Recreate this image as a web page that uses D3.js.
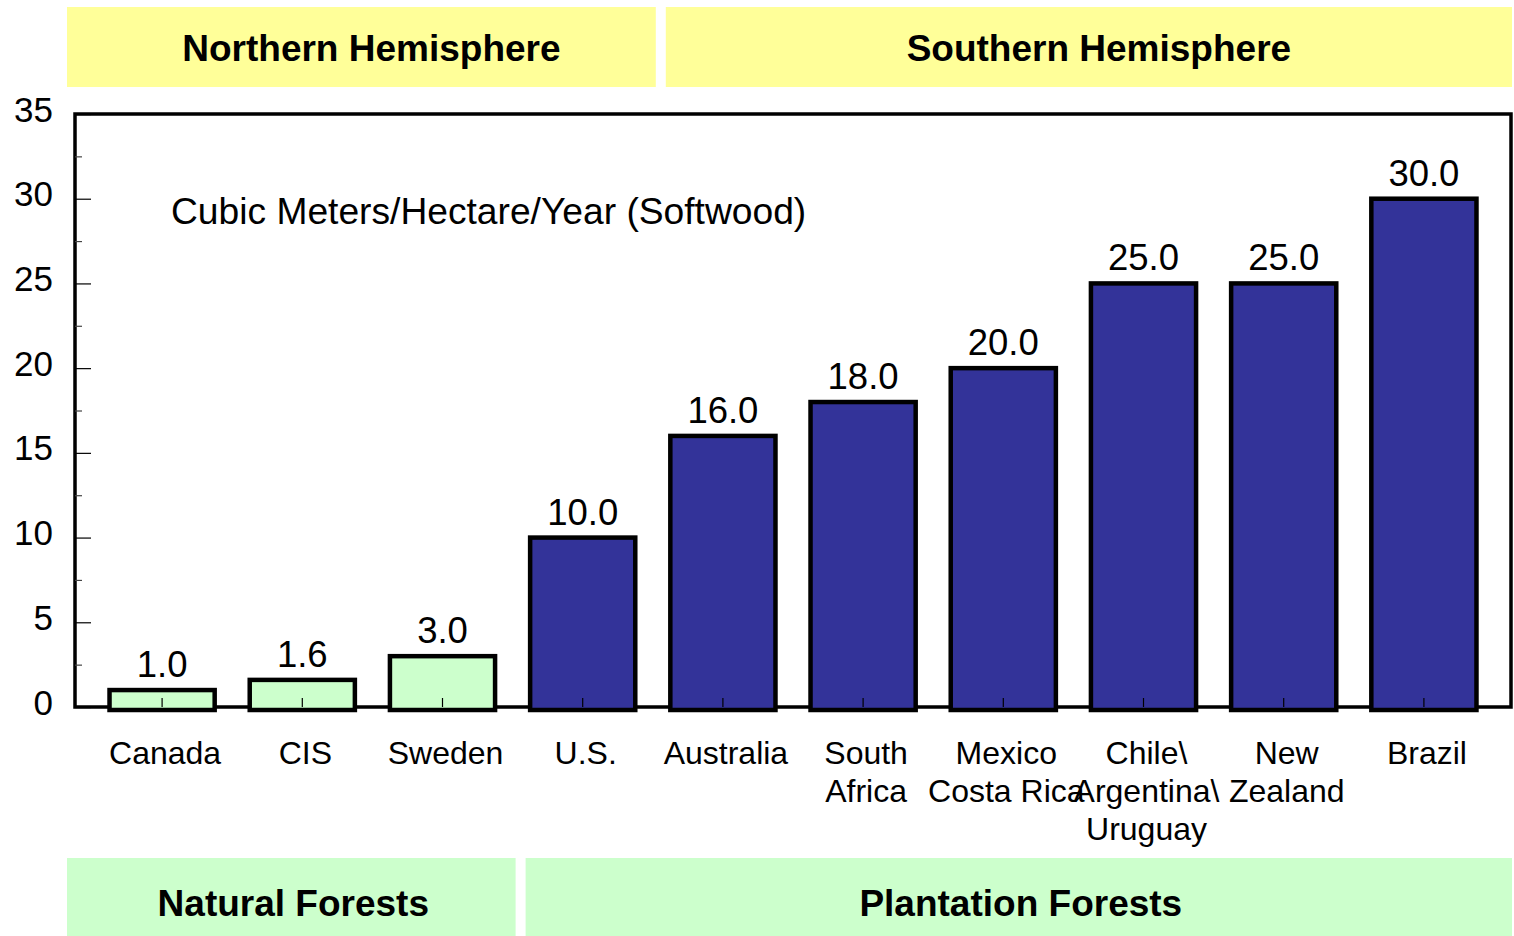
<!DOCTYPE html>
<html>
<head>
<meta charset="utf-8">
<script src="https://cdn.jsdelivr.net/npm/d3@7"></script>
<style>
  body { margin: 0; background: #fff; }
  svg { display: block; font-family: "Liberation Sans", Arial, sans-serif; }
</style>
</head>
<body>
<div id="chart"></div>
<script>
// chart values
const countries = ["Canada", "CIS", "Sweden", "U.S.", "Australia", "South\nAfrica",
    "Mexico\nCosta Rica", "Chile\\\nArgentina\\\nUruguay", "New\nZealand", "Brazil"]
const growth = [1.0, 1.6, 3.0, 10.0, 16.0, 18.0, 20.0, 25.0, 25.0, 30.0]
const forestType = ["natural", "natural", "natural", "plantation", "plantation",
    "plantation", "plantation", "plantation", "plantation", "plantation"]
const hemisphere = ["north", "north", "north", "north", "south",
    "south", "south", "south", "south", "south"]
const yMajorTicks = [0, 5, 10, 15, 20, 25, 30, 35]
const yMinorTicks = [2.5, 7.5, 12.5, 17.5, 22.5, 27.5, 32.5]
const topGroups = [{key: "north", label: "Northern Hemisphere"}, {key: "south", label: "Southern Hemisphere"}]
const bottomGroups = [{key: "natural", label: "Natural Forests"}, {key: "plantation", label: "Plantation Forests"}]
const unitsLabel = "Cubic Meters/Hectare/Year (Softwood)"

const W = 1514, H = 936
const plot = {left: 75, right: 1511, top: 114, bottom: 707}
const colors = {natural: "#ccffcc", plantation: "#333399"}

const svg = d3.select("#chart").append("svg")
    .attr("width", W).attr("height", H)

const x = d3.scaleBand()
    .domain(countries)
    .range([plot.left + 17, plot.right - 17])
    .paddingInner(0.25)
    .paddingOuter(0.125)

const y = d3.scaleLinear().domain([0, 35]).range([plot.bottom, plot.top])

const center = c => x(c) + x.bandwidth() / 2

// group boxes above and below the plot
function groupBoxes(groups, keys, y0, y1, fill, textY, textDx) {
    groups.forEach((g, gi) => {
        let idx = keys.map((k, i) => k === g.key ? i : -1).filter(i => i >= 0)
        let first = idx[0], last = idx[idx.length - 1]
        let x0 = gi === 0 ? plot.left - 8 : (center(countries[first - 1]) + center(countries[first])) / 2 + 13
        let x1 = gi === groups.length - 1 ? plot.right + 1 : (center(countries[last]) + center(countries[last + 1])) / 2 + 3
        svg.append("rect")
            .attr("x", x0).attr("y", y0)
            .attr("width", x1 - x0).attr("height", y1 - y0)
            .attr("fill", fill)
        svg.append("text")
            .attr("x", (x0 + x1) / 2 + textDx).attr("y", textY)
            .attr("text-anchor", "middle")
            .attr("font-size", 37).attr("font-weight", "bold")
            .text(g.label)
    })
}
groupBoxes(topGroups, hemisphere, 7, 87, "#ffff99", 61, 10)
groupBoxes(bottomGroups, forestType, 858, 936, "#ccffcc", 916, 2)

// frame
svg.append("rect")
    .attr("x", plot.left).attr("y", plot.top)
    .attr("width", plot.right - plot.left).attr("height", plot.bottom - plot.top)
    .attr("fill", "none").attr("stroke", "#000").attr("stroke-width", 3.5)

svg.append("text")
    .attr("x", 171).attr("y", 224)
    .attr("font-size", 37.2)
    .text(unitsLabel)

// bars
svg.append("g").selectAll("rect")
    .data(growth)
    .enter()
    .append("rect")
    .attr("x", (d, i) => x(countries[i]))
    .attr("y", d => y(d))
    .attr("width", x.bandwidth())
    .attr("height", d => y(0) + 3 - y(d))
    .attr("fill", (d, i) => colors[forestType[i]])
    .attr("stroke", "#000")
    .attr("stroke-width", 4.5)

// value labels
svg.append("g").selectAll("text")
    .data(growth)
    .enter()
    .append("text")
    .attr("x", (d, i) => center(countries[i]))
    .attr("y", d => y(d) - 13)
    .attr("text-anchor", "middle")
    .attr("font-size", 36.5)
    .text(d => d3.format(".1f")(d))

// y axis, major and minor ticks pointing inwards
let yAxis = svg.append("g")
    .attr("transform", `translate(${plot.left} 0)`)
    .call(d3.axisLeft(y).tickValues(yMajorTicks).tickSizeInner(-16).tickSizeOuter(0).tickPadding(22))
yAxis.select(".domain").remove()
yAxis.selectAll("text").attr("font-size", 35).attr("fill", "#000").attr("dy", "0.2em")
    .style("font-family", "\"Liberation Sans\", Arial, sans-serif")
yAxis.selectAll("line").attr("stroke-width", 1.2)

let yMinor = svg.append("g")
    .attr("transform", `translate(${plot.left} 0)`)
    .call(d3.axisLeft(y).tickValues(yMinorTicks).tickSizeInner(-7).tickSizeOuter(0).tickFormat(""))
yMinor.select(".domain").remove()
yMinor.selectAll("line").attr("stroke-width", 1.2).attr("stroke", "#444")

// x axis ticks at bar centers, pointing up
let xAxis = svg.append("g")
    .attr("transform", `translate(0 ${plot.bottom})`)
    .call(d3.axisBottom(x).tickSizeInner(-9).tickSizeOuter(0).tickFormat(""))
xAxis.select(".domain").remove()
xAxis.selectAll("line").attr("stroke-width", 1.2)

// category labels (multi-line)
let cat = svg.append("g").selectAll("text")
    .data(countries)
    .enter()
    .append("text")
    .attr("x", d => center(d) + 3)
    .attr("y", 764)
    .attr("text-anchor", "middle")
    .attr("font-size", 32)
cat.selectAll("tspan")
    .data(d => d.split("\n"))
    .enter()
    .append("tspan")
    .attr("x", function () { return this.parentNode.getAttribute("x") })
    .attr("dy", (d, i) => i === 0 ? 0 : 38)
    .text(d => d)
</script>
</body>
</html>
